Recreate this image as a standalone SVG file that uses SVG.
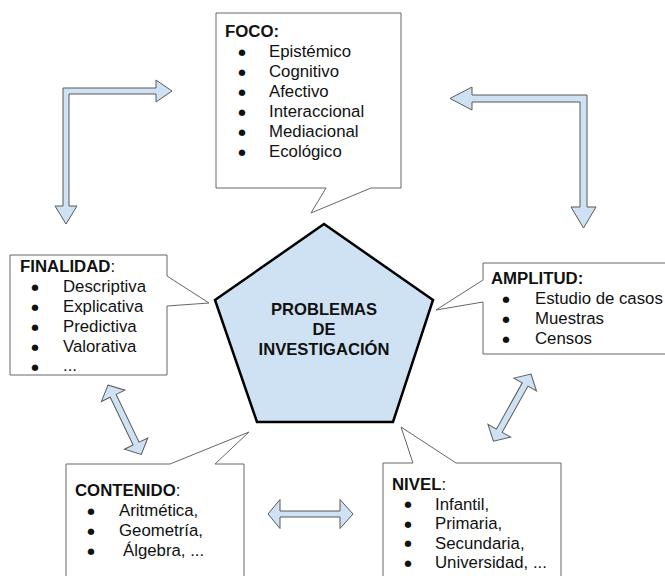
<svg xmlns="http://www.w3.org/2000/svg" xmlns:xlink="http://www.w3.org/1999/xlink" width="665" height="576" viewBox="0 0 665 576">
<style>
.box{fill:#fff;stroke:#666;stroke-width:1}
.arr{fill:#cfe2f3;stroke:#595959;stroke-width:1;stroke-linejoin:miter}
.pent{fill:#cfe2f3;stroke:#000;stroke-width:2.5;stroke-linejoin:miter}
.t{font-family:"Liberation Sans",Arial,sans-serif;font-size:16.8px;fill:#111}
.b{font-weight:bold}
.d{font-family:"DejaVu Sans",sans-serif;font-size:8.5px;fill:#111;text-anchor:middle}
.c{font-family:"Liberation Sans",Arial,sans-serif;font-size:16.6px;font-weight:bold;fill:#111;text-anchor:middle}
</style>
<defs>
<path id="dbl" d="M0,0 L12,-13 L12,-3.3 L65,-3.3 L65,-13 L77,0 L65,13 L65,3.3 L12,3.3 L12,13 Z"/>
</defs>
<rect width="665" height="576" fill="#fff"/>
<g id="connectors">
<polygon class="arr" points="63,88 156,88 156,80 172,91 156,102 156,94 69,94 69,206 77,206 66,224 55,206 63,206"/>
<polygon class="arr" points="587,95 587,207 596,207 583.5,228 571,207 580,207 580,102 472,102 472,110 450,98.5 472,87 472,95"/>
<polygon class="arr" points="268,514 280,499.5 280,511 340,511 340,499.5 353,514 340,528.5 340,517 280,517 280,528.5"/>
<use xlink:href="#dbl" class="arr" transform="translate(108,385) rotate(64.4)"/>
<use xlink:href="#dbl" class="arr" transform="translate(531,374) rotate(119.2)"/>
</g>
<g id="problemas">
<polygon class="pent" points="324,224 433,300 393,422 257,422 215,300"/>
<text class="c" x="324" y="315">PROBLEMAS</text>
<text class="c" x="324" y="335">DE</text>
<text class="c" x="324" y="355">INVESTIGACIÓN</text>
</g>
<g id="foco">
<path class="box" d="M216,13 H401 V188 H371 L311,213 L326,188 H216 Z"/>
<text class="t b" x="225" y="37">FOCO:</text>
<text class="d" x="242" y="54.5">●</text><text class="t" x="269" y="57">Epistémico</text>
<text class="d" x="242" y="74.5">●</text><text class="t" x="269" y="77">Cognitivo</text>
<text class="d" x="242" y="94.5">●</text><text class="t" x="269" y="97">Afectivo</text>
<text class="d" x="242" y="114.5">●</text><text class="t" x="269" y="117">Interaccional</text>
<text class="d" x="242" y="134.5">●</text><text class="t" x="269" y="137">Mediacional</text>
<text class="d" x="242" y="154.5">●</text><text class="t" x="269" y="157">Ecológico</text>
</g>
<g id="finalidad">
<path class="box" d="M10,255 H167 V276 L209,303 L167,306 V375 H10 Z"/>
<text class="t" x="20" y="272"><tspan class="b">FINALIDAD</tspan>:</text>
<text class="d" x="35" y="289.5">●</text><text class="t" x="63" y="292">Descriptiva</text>
<text class="d" x="35" y="309.5">●</text><text class="t" x="63" y="312">Explicativa</text>
<text class="d" x="35" y="329.5">●</text><text class="t" x="63" y="332">Predictiva</text>
<text class="d" x="35" y="349.5">●</text><text class="t" x="63" y="352">Valorativa</text>
<text class="d" x="35" y="369.5">●</text><text class="t" x="63" y="371">...</text>
</g>
<g id="amplitud">
<path class="box" d="M483,263 H668 V354 H483 V302 L436,310 L483,280 Z"/>
<text class="t b" x="491" y="284">AMPLITUD:</text>
<text class="d" x="506" y="301.5">●</text><text class="t" x="535" y="304">Estudio de casos</text>
<text class="d" x="506" y="321.5">●</text><text class="t" x="535" y="324">Muestras</text>
<text class="d" x="506" y="341.5">●</text><text class="t" x="535" y="344">Censos</text>
</g>
<g id="contenido">
<path class="box" d="M66,464 H170 L249,432 L215,464 H244 V580 H66 Z"/>
<text class="t" x="75" y="496"><tspan class="b">CONTENIDO</tspan>:</text>
<text class="d" x="91" y="513.5">●</text><text class="t" x="119" y="516">Aritmética,</text>
<text class="d" x="91" y="533.5">●</text><text class="t" x="119" y="536">Geometría,</text>
<text class="d" x="91" y="553.5">●</text><text class="t" x="123" y="556">Álgebra, ...</text>
</g>
<g id="nivel">
<path class="box" d="M383,463 H413 L401,427 L456,463 H561 V580 H383 Z"/>
<text class="t" x="392" y="490"><tspan class="b">NIVEL</tspan>:</text>
<text class="d" x="408" y="507">●</text><text class="t" x="435" y="509.5">Infantil,</text>
<text class="d" x="408" y="526.5">●</text><text class="t" x="435" y="529">Primaria,</text>
<text class="d" x="408" y="546">●</text><text class="t" x="435" y="548.5">Secundaria,</text>
<text class="d" x="408" y="565.5">●</text><text class="t" x="435" y="568">Universidad, ...</text>
</g>
</svg>
